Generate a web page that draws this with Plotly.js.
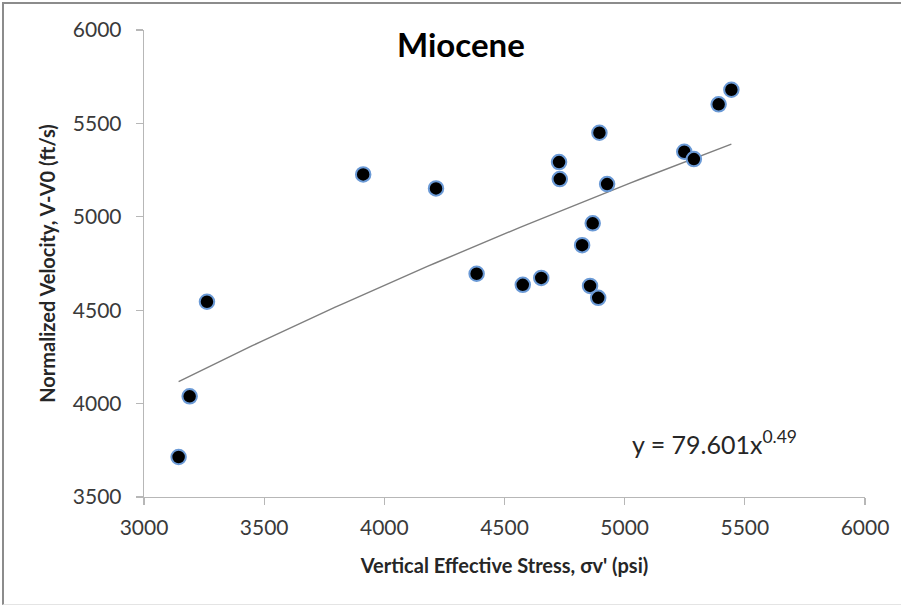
<!DOCTYPE html>
<html>
<head>
<meta charset="utf-8">
<script src="https://cdn.plot.ly/plotly-3.0.1.min.js"></script>
<style>
  html, body { margin: 0; padding: 0; background: #ffffff; }
  #wrap { position: relative; width: 901px; height: 606px; overflow: hidden; }
  #chart { width: 901px; height: 606px; }
  #frame { position: absolute; left: 2px; top: 2px; right: -4px; bottom: 1px;
           border-left: 2px solid #8c8c8c; border-top: 2px solid #8c8c8c;
           border-bottom: 1px solid #e4e4e4; pointer-events: none; }
</style>
</head>
<body>
<div id="wrap">
  <div id="chart"></div>
  <div id="frame"></div>
</div>
<script>
// Vertical effective stress (psi)
var stress = [3144, 3190, 3262, 3912, 4215, 4384, 4576, 4653, 4727, 4730,
              4823, 4856, 4867, 4890, 4895, 4927, 5248, 5288, 5391, 5444];
// Normalized velocity V-V0 (ft/s)
var velocity = [3714, 4039, 4545, 5227, 5152, 4695, 4636, 4673, 5293, 5202,
                4848, 4630, 4965, 4566, 5450, 5175, 5348, 5309, 5602, 5680];

// Power trend line as printed on the chart: y = 79.601 x^0.49
var trendCoef = 79.601;
var trendExp = 0.49;

var xTicks = [3000, 3500, 4000, 4500, 5000, 5500, 6000];
var yTicks = [3500, 4000, 4500, 5000, 5500, 6000];

var chartTitle = 'Miocene';
var xTitle = "Vertical Effective Stress, \u03c3v' (psi)";
var yTitle = 'Normalized Velocity, V-V0 (ft/s)';
var equationText = 'y = 79.601x<sup>0.49</sup>';

// trend line across the data range
var xMin = Math.min.apply(null, stress), xMax = Math.max.apply(null, stress);
var trendX = [], trendY = [];
for (var i = 0; i <= 60; i++) {
  var xv = xMin + (xMax - xMin) * i / 60;
  trendX.push(xv);
  trendY.push(trendCoef * Math.pow(xv, trendExp));
}

var FONT = 'Lato, "Open Sans", sans-serif';

var traces = [
  {
    x: trendX, y: trendY, type: 'scatter', mode: 'lines',
    line: { color: '#7f7f7f', width: 1.4 },
    hoverinfo: 'skip', showlegend: false
  },
  {
    x: stress, y: velocity, type: 'scatter', mode: 'markers',
    marker: { color: '#000000', size: 14.5, line: { color: '#6b9ad6', width: 2 } },
    showlegend: false
  }
];

var layout = {
  width: 901, height: 606,
  margin: { l: 144, r: 36, t: 30, b: 109, pad: 0 },
  paper_bgcolor: '#ffffff', plot_bgcolor: '#ffffff',
  font: { family: FONT, color: '#3a3a3a', size: 21 },
  showlegend: false,
  xaxis: {
    range: [3000, 6000], tickvals: xTicks, ticktext: xTicks.map(String),
    showgrid: false, zeroline: false,
    showline: true, linecolor: '#b7b7b7', linewidth: 1.3,
    ticks: 'outside', ticklen: 7, tickcolor: '#b7b7b7', tickwidth: 1.3,
    tickfont: { family: FONT, size: 21, color: '#3a3a3a' },
    ticklabelstandoff: 4,
    title: { text: xTitle, font: { family: FONT, size: 20, color: '#262626', weight: 'bold' }, standoff: 21 },
    fixedrange: true
  },
  yaxis: {
    range: [3500, 6000], tickvals: yTicks, ticktext: yTicks.map(String),
    showgrid: false, zeroline: false,
    showline: true, linecolor: '#b7b7b7', linewidth: 1.3,
    ticks: 'outside', ticklen: 7, tickcolor: '#b7b7b7', tickwidth: 1.3,
    tickfont: { family: FONT, size: 21, color: '#3a3a3a' },
    ticklabelstandoff: 10,
    title: { text: yTitle, font: { family: FONT, size: 20, color: '#262626', weight: 'bold' }, standoff: 11 },
    fixedrange: true
  },
  annotations: [
    {
      text: chartTitle, xref: 'paper', yref: 'paper', x: 0.439, y: 0.97,
      xanchor: 'center', yanchor: 'middle', showarrow: false,
      font: { family: FONT, size: 33, color: '#000000', weight: 'bold' }
    },
    {
      text: equationText, xref: 'paper', yref: 'paper', x: 0.674, y: 0.117,
      xanchor: 'left', yanchor: 'middle', showarrow: false,
      font: { family: FONT, size: 25, color: '#262626' }
    }
  ]
};

Plotly.newPlot('chart', traces, layout, { displayModeBar: false, staticPlot: true });
</script>
</body>
</html>
